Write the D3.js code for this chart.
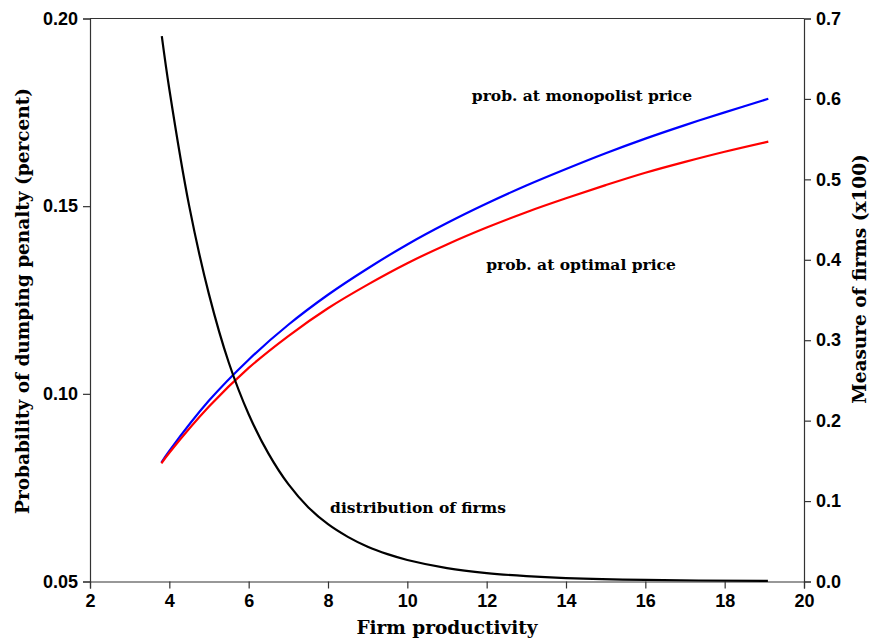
<!DOCTYPE html>
<html>
<head>
<meta charset="utf-8">
<script src="https://cdn.jsdelivr.net/npm/d3@7"></script>
<style>
body { margin: 0; background: #fff; }
.tick text { font-family: "Liberation Sans", Arial, sans-serif; font-weight: bold; font-size: 18px; fill: #000; }
.tick line, .domain { stroke: #333; stroke-width: 1.2; }
.ttl { font-family: "DejaVu Serif", serif; font-weight: bold; font-size: 18.5px; }
.lbl { font-family: "DejaVu Serif", serif; font-weight: bold; font-size: 15.5px; }
</style>
</head>
<body>
<script>
// productivity grid for the two probability curves
var prodX = [3.8, 4, 5, 6, 7, 8, 9, 10, 11, 12, 13, 14, 15, 16, 17, 18, 19.1];
var probMonopolist = [0.0817, 0.0848, 0.0982, 0.1091, 0.1184, 0.1264, 0.1334, 0.1398, 0.1455, 0.1507,
                      0.1555, 0.1599, 0.1641, 0.1680, 0.1716, 0.1750, 0.1786];
var probOptimal = [0.0815, 0.0843, 0.0966, 0.1069, 0.1154, 0.1228, 0.1291, 0.1348, 0.1398, 0.1443,
                   0.1484, 0.1521, 0.1556, 0.1589, 0.1618, 0.1645, 0.1672];
// distribution of firms (right axis, x100)
var distX = [3.81, 4, 4.5, 5, 5.5, 6, 6.5, 7, 7.5, 8, 8.5, 9, 9.5, 10, 11, 12, 13, 14, 16, 19.09];
var distY = [0.678, 0.612, 0.467, 0.357, 0.272, 0.208, 0.159, 0.121, 0.0924, 0.0712, 0.0555, 0.0432,
             0.0340, 0.0268, 0.0167, 0.0105, 0.0067, 0.0043, 0.0019, 0.0008];
var xTicks = [2, 4, 6, 8, 10, 12, 14, 16, 18, 20];
var yTicks = [0.05, 0.10, 0.15, 0.20];
var y2Ticks = [0, 0.1, 0.2, 0.3, 0.4, 0.5, 0.6, 0.7];

var W = 870, H = 641;
var m = {left: 90, right: 66, top: 18.5, bottom: 59.5};

var svg = d3.select("body").append("svg")
    .attr("width", W)
    .attr("height", H);

var x = d3.scaleLinear().domain([2, 20]).range([m.left, W - m.right]);
var y = d3.scaleLinear().domain([0.05, 0.20]).range([H - m.bottom, m.top]);
var y2 = d3.scaleLinear().domain([0, 0.7]).range([H - m.bottom, m.top]);

// frame top line
svg.append("line")
    .attr("x1", x(2)).attr("x2", x(20))
    .attr("y1", m.top).attr("y2", m.top)
    .attr("stroke", "#333").attr("stroke-width", 1.2);

svg.append("g")
    .attr("transform", "translate(0," + (H - m.bottom) + ")")
    .call(d3.axisBottom(x).tickValues(xTicks).tickSizeOuter(0).tickSize(7).tickPadding(6).tickFormat(d3.format("d")));

svg.append("g")
    .attr("transform", "translate(" + m.left + ",0)")
    .call(d3.axisLeft(y).tickValues(yTicks).tickSizeOuter(0).tickSize(7).tickPadding(5).tickFormat(d3.format(".2f")));

svg.append("g")
    .attr("transform", "translate(" + (W - m.right) + ",0)")
    .call(d3.axisRight(y2).tickValues(y2Ticks).tickSizeOuter(0).tickSize(7).tickPadding(5).tickFormat(d3.format(".1f")));

var line = d3.line()
    .x((d) => x(d[0]))
    .y((d) => d[1])
    .curve(d3.curveCatmullRom.alpha(0.5));

var series = [
    [prodX.map((v, i) => [v, y(probMonopolist[i])]), "#0000ff"],
    [prodX.map((v, i) => [v, y(probOptimal[i])]), "#ff0000"],
    [distX.map((v, i) => [v, y2(distY[i])]), "#000"]
];

svg.selectAll("path.curve").data(series)
    .enter().append("path")
    .attr("class", "curve")
    .attr("fill", "none")
    .attr("stroke", (d) => d[1])
    .attr("stroke-width", 2.2)
    .attr("d", (d) => line(d[0]));

// curve labels
var labels = [
    ["prob. at monopolist price", 582, 101],
    ["prob. at optimal price", 581, 270],
    ["distribution of firms", 418, 513]
];
svg.selectAll("text.lbl").data(labels)
    .enter().append("text")
    .attr("class", "lbl")
    .attr("text-anchor", "middle")
    .attr("x", (d) => d[1])
    .attr("y", (d) => d[2])
    .text((d) => d[0]);

// axis titles
svg.append("text").attr("class", "ttl")
    .attr("text-anchor", "middle")
    .attr("x", 447).attr("y", 634)
    .text("Firm productivity");

svg.append("text").attr("class", "ttl")
    .attr("text-anchor", "middle")
    .attr("transform", "translate(29,301) rotate(-90)")
    .text("Probability of dumping penalty (percent)");

svg.append("text").attr("class", "ttl")
    .attr("text-anchor", "middle")
    .attr("transform", "translate(866,279) rotate(-90)")
    .text("Measure of firms (x100)");
</script>
</body>
</html>
